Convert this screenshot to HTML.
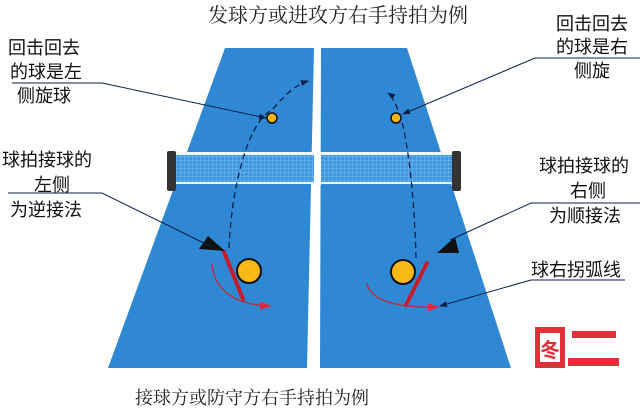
<!DOCTYPE html>
<html><head><meta charset="utf-8"><style>
html,body{margin:0;padding:0;background:#fff;}
svg{display:block;}
.s{font-family:"Liberation Sans","Noto Sans CJK SC",sans-serif;font-size:18px;fill:#111;}
.t{font-family:"Liberation Serif","Noto Serif CJK SC",serif;font-size:19px;fill:#222;}
</style></head><body>
<svg width="640" height="414" viewBox="0 0 640 414" xmlns="http://www.w3.org/2000/svg">
<defs>
<pattern id="mesh" width="4" height="4" patternUnits="userSpaceOnUse">
<rect width="4" height="4" fill="#3e98e2"/>
<path d="M0 0H4M0 0V4" stroke="#8cc3ef" stroke-width="0.8"/>
</pattern>
<marker id="ab" markerWidth="8" markerHeight="8" refX="7" refY="4" orient="auto" markerUnits="userSpaceOnUse"><path d="M0 1L8 4L0 7z" fill="#0a1f4a"/></marker>
<marker id="ar" markerWidth="12" markerHeight="10" refX="10" refY="5" orient="auto" markerUnits="userSpaceOnUse"><path d="M0 1L12 5L0 9z" fill="#e0283a"/></marker>
</defs>
<text class="t" x="338" y="22" text-anchor="middle" style="font-size:20px">发球方或进攻方右手持拍为例</text>
<text class="t" x="252" y="404" text-anchor="middle" style="font-size:18px">接球方或防守方右手持拍为例</text>
<polygon points="225,48 314,48 307,368 108,368" fill="#2f88d4"/>
<polygon points="321,48 407,48 511,368 320,368" fill="#2f88d4"/>
<rect x="172" y="154" width="282" height="29" fill="url(#mesh)"/>
<rect x="172" y="152" width="282" height="3" fill="#eef6fc"/>
<rect x="172" y="182" width="282" height="2" fill="#eef6fc"/>
<rect x="314" y="152" width="7" height="33" fill="#fff"/>
<rect x="167" y="151" width="9" height="40" rx="2" fill="#333"/>
<rect x="452" y="151" width="9" height="40" rx="2" fill="#333"/>
<path d="M229,248 C232,180 250,120 272,110 C285,95 295,85 308,81" fill="none" stroke="#0a1f4a" stroke-width="1.3" stroke-dasharray="6,4" marker-end="url(#ab)"/>
<path d="M416,258 C414,180 405,125 398,110 C394,100 391,95 388,93" fill="none" stroke="#0a1f4a" stroke-width="1.3" stroke-dasharray="6,4" marker-end="url(#ab)"/>
<circle cx="272" cy="118" r="5" fill="#f5b61a" stroke="#111" stroke-width="1.5"/>
<circle cx="396" cy="118" r="5" fill="#f5b61a" stroke="#111" stroke-width="1.5"/>
<path d="M212,264 C214,290 235,305 270,306" fill="none" stroke="#c0283a" stroke-width="1.3" marker-end="url(#ar)"/>
<path d="M367,283 C370,300 395,308 438,307" fill="none" stroke="#c0283a" stroke-width="1.3" marker-end="url(#ar)"/>
<line x1="224" y1="252" x2="243" y2="299" stroke="#c41e2e" stroke-width="4" stroke-linecap="round"/>
<line x1="427" y1="263" x2="406" y2="305" stroke="#c41e2e" stroke-width="4" stroke-linecap="round"/>
<circle cx="249" cy="271" r="12" fill="#f7b818" stroke="#111" stroke-width="2"/>
<circle cx="403" cy="272" r="12" fill="#f7b818" stroke="#111" stroke-width="2"/>
<polygon points="199,249 208,236 225,251" fill="#111"/>
<polygon points="437,253 455,237 459,253" fill="#111"/>
<text class="s" x="8" y="54">回击回去</text>
<text class="s" x="10" y="78">的球是左</text>
<text class="s" x="17" y="102">侧旋球</text>
<polyline points="12,83 102,83 266,118" fill="none" stroke="#0a1f4a" stroke-width="1" marker-end="url(#ab)"/>
<text class="s" x="556" y="30">回击回去</text>
<text class="s" x="556" y="53">的球是右</text>
<text class="s" x="574" y="77">侧旋</text>
<polyline points="640,58 535,58 403,114" fill="none" stroke="#0a1f4a" stroke-width="1" marker-end="url(#ab)"/>
<text class="s" x="2" y="166">球拍接球的</text>
<text class="s" x="34" y="191">左侧</text>
<text class="s" x="10" y="216">为逆接法</text>
<polyline points="8,193 102,193 212,247" fill="none" stroke="#0a1f4a" stroke-width="1"/>
<text class="s" x="539" y="172">球拍接球的</text>
<text class="s" x="570" y="197">右侧</text>
<text class="s" x="549" y="222">为顺接法</text>
<polyline points="640,203 531,203 450,240" fill="none" stroke="#0a1f4a" stroke-width="1"/>
<text class="s" x="531" y="276">球右拐弧线</text>
<polyline points="625,280 531,280 440,306" fill="none" stroke="#0a1f4a" stroke-width="1" marker-end="url(#ab)"/>
<rect x="535" y="327" width="30" height="41" fill="#e0303a"/>
<rect x="540" y="333" width="20" height="29" fill="#fff"/>
<text x="550" y="357" text-anchor="middle" font-family="'Noto Sans CJK SC',sans-serif" font-size="20" font-weight="bold" fill="#e0303a">冬</text>
<rect x="572" y="331" width="44" height="7" fill="#e0303a"/>
<rect x="568" y="358" width="51" height="8" fill="#e0303a"/>
</svg>
</body></html>
